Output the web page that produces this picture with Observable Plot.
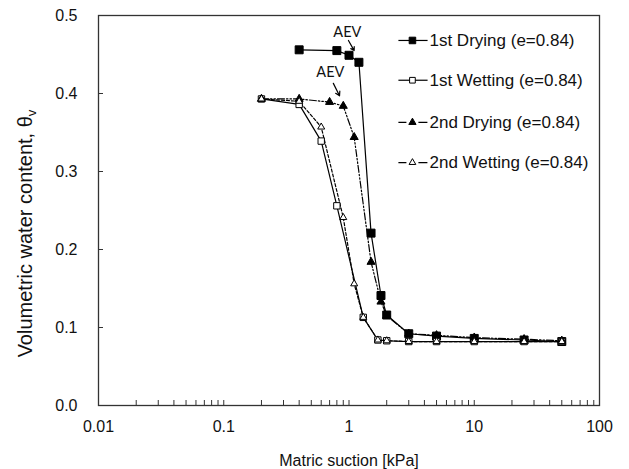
<!DOCTYPE html>
<html><head><meta charset="utf-8">
<script src="https://cdn.jsdelivr.net/npm/d3@7"></script>
<script src="https://cdn.jsdelivr.net/npm/@observablehq/plot@0.6"></script>
<style>
body{margin:0;background:#fff;}
svg{font-family:"Liberation Sans",Arial,sans-serif;}
</style>
</head><body><div id="chart"></div>
<script>
// ---- data ----
const seriesNames = ["1st Drying (e=0.84)", "1st Wetting (e=0.84)", "2nd Drying (e=0.84)", "2nd Wetting (e=0.84)"];
const dry1X = [0.4, 0.8, 1.0, 1.2, 1.5, 1.8, 2.0, 3, 5, 10, 25, 50];
const dry1Y = [0.456, 0.455, 0.449, 0.440, 0.221, 0.141, 0.116, 0.092, 0.089, 0.086, 0.084, 0.082];
const wet1X = [0.2, 0.4, 0.6, 0.8, 1.3, 1.7, 2.0, 3, 5, 10, 25, 50];
const wet1Y = [0.393, 0.386, 0.339, 0.256, 0.113, 0.084, 0.083, 0.082, 0.082, 0.082, 0.082, 0.082];
const dry2X = [0.2, 0.4, 0.7, 0.9, 1.1, 1.5, 1.8, 2.0, 3, 5, 10, 25, 50];
const dry2Y = [0.393, 0.393, 0.389, 0.384, 0.344, 0.184, 0.133, 0.115, 0.092, 0.090, 0.087, 0.085, 0.083];
const wet2X = [0.2, 0.4, 0.6, 0.9, 1.1, 1.3, 1.7, 2.0, 3, 5, 10, 25, 50];
const wet2Y = [0.393, 0.390, 0.357, 0.241, 0.156, 0.113, 0.084, 0.083, 0.082, 0.082, 0.082, 0.082, 0.082];

const xTickValues = [0.01, 0.1, 1, 10, 100];
const xTickLabels = ["0.01", "0.1", "1", "10", "100"];
const yTickValues = [0, 0.1, 0.2, 0.3, 0.4, 0.5];
const yTickLabels = ["0.0", "0.1", "0.2", "0.3", "0.4", "0.5"];
const xTitle = "Matric suction [kPa]";
const yTitle = "Volumetric water content, θ";
const yTitleSub = "v";
const annotationText = ["AEV", "AEV"];
// annotation anchors in data units (suction, theta)
const annotX = [0.97, 0.71];
const annotY = [0.478, 0.427];
const arrowX1 = [0.99, 0.75], arrowY1 = [0.468, 0.413];
const arrowX2 = [1.10, 0.84], arrowY2 = [0.455, 0.397];

// ---- styles / layout ----
const symbols = ["square", "square", "triangle", "triangle"];
const fills = ["black", "white", "black", "white"];
const radii = [4.5, 3.6, 3.0, 2.6];
const legendRadii = [3.7, 3.2, 2.7, 2.5];
const dashes = [null, null, "7,2,1.5,2,1.5,2", "3,2"];
const legendDashes = [null, null, "8,12,9", "8,12,9"];
// legend layout in data units
const legendRowY = [0.468, 0.417, 0.363, 0.3115];
const legendX0 = 2.48, legendX1 = 4.24, legendMarkX = 3.21, legendTextX = 4.39;
// y-axis title anchor in data units (outside the frame, left of the axis)
const yTitlePosX = 0.0026, yTitlePosY = 0.2205;

const xs = [dry1X, wet1X, dry2X, wet2X];
const ys = [dry1Y, wet1Y, dry2Y, wet2Y];
const series = seriesNames.map((name, i) => xs[i].map((x, j) => ({x, y: ys[i][j], name})));
const legend = seriesNames.map((name, i) => ({name, y: legendRowY[i], i}));
const annots = annotationText.map((t, i) => ({t, x: annotX[i], y: annotY[i], x1: arrowX1[i], y1: arrowY1[i], x2: arrowX2[i], y2: arrowY2[i]}));
const minorTicks = xTickValues.slice(0, -1).flatMap(d => [2,3,4,5,6,7,8,9].map(k => +(d * k).toPrecision(3)));

const marks = [];
series.forEach((pts, i) => {
  marks.push(Plot.line(pts, {x: "x", y: "y", stroke: "black", strokeWidth: 1.2, strokeDasharray: dashes[i]}));
});
series.forEach((pts, i) => {
  marks.push(Plot.dot(pts, {x: "x", y: "y", symbol: symbols[i], r: radii[i], fill: fills[i], stroke: "black", strokeWidth: 1}));
});
legend.forEach((d, i) => {
  marks.push(Plot.link([d], {x1: legendX0, x2: legendX1, y1: "y", y2: "y", stroke: "black", strokeWidth: 1.2, strokeDasharray: legendDashes[i]}));
  marks.push(Plot.dot([d], {x: legendMarkX, y: "y", symbol: symbols[i], r: legendRadii[i], fill: fills[i], stroke: "black", strokeWidth: 1}));
});
marks.push(Plot.text(legend, {x: legendTextX, y: "y", text: "name", textAnchor: "start", fontSize: 17, fill: "#111"}));
marks.push(Plot.text(annots, {x: "x", y: "y", text: "t", fontSize: 14.5, fontFamily: "Lato, 'Open Sans', sans-serif", fill: "#111"}));
marks.push(Plot.arrow(annots, {x1: "x1", y1: "y1", x2: "x2", y2: "y2", stroke: "black", strokeWidth: 1.2, headLength: 6}));

// inward tick marks (shifted back inside the frame) and separate labels
marks.push(Plot.axisX(minorTicks, {tickSize: 5, dy: -5, tickFormat: () => "", label: null, stroke: "#333"}));
marks.push(Plot.axisX(xTickValues, {tickSize: 5, dy: -5, tickFormat: () => "", label: null, stroke: "#333"}));
marks.push(Plot.axisX(xTickValues, {tickSize: 0, tickPadding: 15, tickFormat: (d) => xTickLabels[xTickValues.indexOf(d)], label: null, fontSize: 16, fill: "#111"}));
marks.push(Plot.axisY(yTickValues, {tickSize: 5, dx: 5, tickFormat: () => "", label: null, stroke: "#333"}));
marks.push(Plot.axisY(yTickValues, {tickSize: 0, tickPadding: 21, tickFormat: (d) => yTickLabels[yTickValues.indexOf(d)], label: null, fontSize: 16, fill: "#111"}));
marks.push(Plot.frame({stroke: "#333", strokeWidth: 1.3}));
marks.push(Plot.text([xTitle], {frameAnchor: "bottom", dy: 55, fontSize: 16, fill: "#111", lineAnchor: "middle"}));
marks.push(Plot.text([yTitle], {x: yTitlePosX, y: yTitlePosY, text: d => d, rotate: -90, fontSize: 20, fill: "#111", lineAnchor: "middle"}));

const chart = Plot.plot({
  width: 629,
  height: 469,
  marginLeft: 98,
  marginRight: 30,
  marginTop: 15,
  marginBottom: 64,
  x: {type: "log", domain: [0.01, 100]},
  y: {domain: [0, 0.5]},
  style: {fontFamily: "'Liberation Sans', Arial, sans-serif", background: "white"},
  marks
});
document.getElementById("chart").appendChild(chart);
d3.select(chart).selectAll("text").filter(function() { return this.textContent === yTitle; })
  .append("tspan").attr("dy", "0.3em").attr("font-size", 13).text(yTitleSub);
</script>
</body></html>
